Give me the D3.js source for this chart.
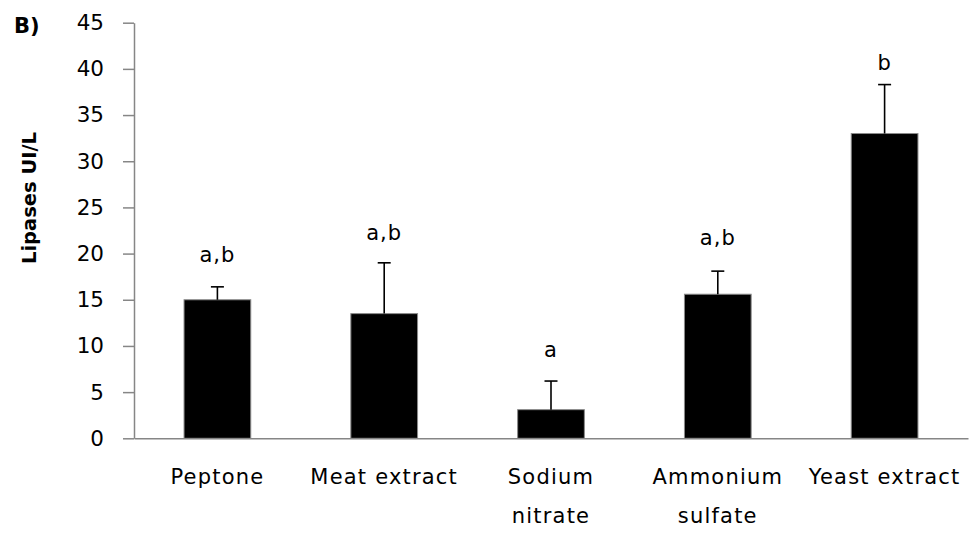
<!DOCTYPE html>
<html>
<head>
<meta charset="utf-8">
<script src="https://cdn.jsdelivr.net/npm/d3@7"></script>
<style>
  body { margin: 0; background: #fff; }
  svg { display: block; }
  text { font-family: "DejaVu Sans", Verdana, sans-serif; fill: #000; }
</style>
</head>
<body>
<div id="chart"></div>
<script>
const categories = ['Peptone', 'Meat extract', 'Sodium nitrate', 'Ammonium sulfate', 'Yeast extract'];
const tickLabels = [['Peptone'], ['Meat extract'], ['Sodium', 'nitrate'], ['Ammonium', 'sulfate'], ['Yeast extract']];
const values = [15.0, 13.5, 3.1, 15.6, 33.0];
const errors = [1.4, 5.5, 3.1, 2.5, 5.3];
const letters = ['a,b', 'a,b', 'a', 'a,b', 'b'];
const letterAt = [19.1, 21.5, 8.8, 20.9, 39.9];
const yTicks = [0, 5, 10, 15, 20, 25, 30, 35, 40, 45];

const width = 974, height = 536;
const plotLeft = 134, plotRight = 968, plotTop = 22.7, plotBottom = 438.3;

const svg = d3.select('#chart')
    .append('svg')
    .attr('width', width)
    .attr('height', height);

const x = d3.scaleBand()
    .domain(categories)
    .range([plotLeft, plotRight])
    .paddingInner(0.6)
    .paddingOuter(0.3);

const y = d3.scaleLinear()
    .domain([0, 45])
    .range([plotBottom, plotTop]);

// y axis
const yAxis = d3.axisLeft(y)
    .tickValues(yTicks)
    .tickSize(11)
    .tickPadding(19)
    .tickSizeOuter(0);

const gy = svg.append('g')
    .attr('transform', `translate(${plotLeft},0)`)
    .call(yAxis);
gy.select('.domain').attr('stroke', '#868686').attr('stroke-width', 1.5);
gy.selectAll('.tick line').attr('stroke', '#868686').attr('stroke-width', 1.5);
gy.selectAll('.tick text')
    .style('font-family', '"DejaVu Sans", Verdana, sans-serif')
    .style('font-size', '21.5px')
    .attr('fill', '#000');

// bars
svg.selectAll('rect.bar')
    .data(values)
    .enter()
    .append('rect')
    .attr('class', 'bar')
    .attr('x', (d, i) => x(categories[i]))
    .attr('y', d => y(d))
    .attr('width', x.bandwidth())
    .attr('height', d => y(0) - y(d))
    .attr('fill', '#000')
    .attr('stroke', '#8a8a8a')
    .attr('stroke-width', 1);

// error bars
const cx = i => x(categories[i]) + x.bandwidth() / 2;
const err = svg.append('g');
values.forEach((v, i) => {
    err.append('line')
        .attr('x1', cx(i)).attr('x2', cx(i))
        .attr('y1', y(v)).attr('y2', y(v + errors[i]))
        .attr('stroke', '#000').attr('stroke-width', 1.6);
    err.append('line')
        .attr('x1', cx(i) - 6.5).attr('x2', cx(i) + 6.5)
        .attr('y1', y(v + errors[i])).attr('y2', y(v + errors[i]))
        .attr('stroke', '#000').attr('stroke-width', 1.6);
});

// x axis line
const xAxis = d3.axisBottom(x).tickSize(0).tickFormat('');
const gx = svg.append('g')
    .attr('transform', `translate(0,${plotBottom})`)
    .call(xAxis);
gx.select('.domain').attr('stroke', '#868686').attr('stroke-width', 1.5);

// category labels
categories.forEach((c, i) => {
    const t = svg.append('text')
        .attr('x', cx(i))
        .attr('y', 484)
        .attr('text-anchor', 'middle')
        .style('font-size', '21px')
        .style('letter-spacing', '1.2px');
    tickLabels[i].forEach((line, j) => {
        t.append('tspan')
            .attr('x', cx(i))
            .attr('dy', j === 0 ? 0 : 39)
            .text(line);
    });
});

// significance letters
svg.selectAll('text.letter')
    .data(letters)
    .enter()
    .append('text')
    .attr('class', 'letter')
    .attr('x', (d, i) => cx(i))
    .attr('y', (d, i) => y(letterAt[i]))
    .attr('text-anchor', 'middle')
    .style('font-size', '21px')
    .style('letter-spacing', '1px')
    .text(d => d);

// y title
svg.append('text')
    .attr('transform', 'translate(36,198) rotate(-90)')
    .attr('text-anchor', 'middle')
    .style('font-size', '19.5px')
    .style('font-weight', 'bold')
    .text('Lipases UI/L');

// panel label
svg.append('text')
    .attr('x', 14)
    .attr('y', 33)
    .style('font-size', '21px')
    .style('font-weight', 'bold')
    .text('B)');
</script>
</body>
</html>
